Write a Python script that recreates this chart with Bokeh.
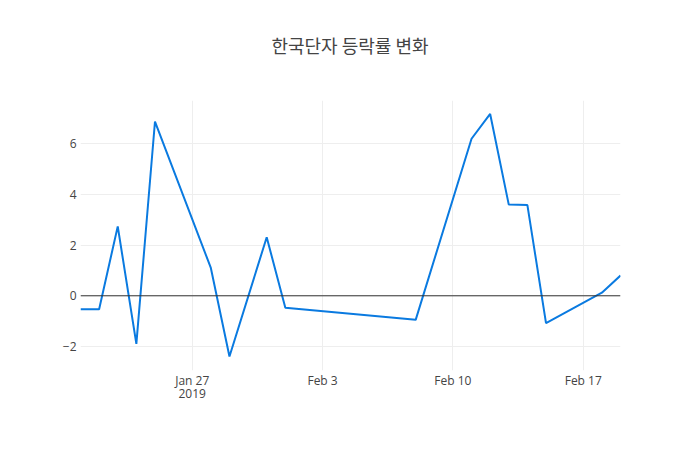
import pandas as pd
from bokeh.plotting import figure
from bokeh.layouts import column
from bokeh.models import FixedTicker, Span, Range1d, Div
from bokeh.embed import file_html
from bokeh.resources import INLINE

title_text = "한국단자 등락률 변화"
dates = ["2019-01-21", "2019-01-22", "2019-01-23", "2019-01-24", "2019-01-25",
         "2019-01-28", "2019-01-29", "2019-01-31", "2019-02-01", "2019-02-08",
         "2019-02-11", "2019-02-12", "2019-02-13", "2019-02-14", "2019-02-15",
         "2019-02-18", "2019-02-19"]
rates = [-0.53, -0.53, 2.74, -1.90, 6.88,
         1.10, -2.40, 2.31, -0.47, -0.95,
         6.20, 7.18, 3.60, 3.58, -1.08,
         0.12, 0.80]
x_tick_dates = ["2019-01-27", "2019-02-03", "2019-02-10", "2019-02-17"]
x_tick_labels = ["Jan 27\n2019", "Feb 3", "Feb 10", "Feb 17"]
y_ticks = [-2, 0, 2, 4, 6]
y_tick_labels = ["\u22122", "0", "2", "4", "6"]

x = pd.to_datetime(dates)

p = figure(width=700, height=350, x_axis_type="datetime", output_backend="svg",
           toolbar_location=None, title=None, min_border_left=80, min_border_right=80,
           min_border_top=0, min_border_bottom=80)
p.x_range = Range1d(x[0], x[-1])
p.y_range = Range1d(-2.95, 7.71)

p.line(x, rates, line_color="#0a7ae0", line_width=2)
p.add_layout(Span(location=0, dimension="width", line_color="#333333", line_width=1))

xt = [pd.Timestamp(d).value // 10**6 for d in x_tick_dates]
p.xaxis.ticker = FixedTicker(ticks=xt)
p.xaxis.major_label_overrides = {t: l for t, l in zip(xt, x_tick_labels)}
p.yaxis.ticker = FixedTicker(ticks=y_ticks)
p.yaxis.major_label_overrides = {t: l for t, l in zip(y_ticks, y_tick_labels)}

for ax in (p.xaxis[0], p.yaxis[0]):
    ax.axis_line_color = None
    ax.major_tick_line_color = None
    ax.minor_tick_line_color = None
    ax.major_label_text_font = "Open Sans"
    ax.major_label_text_font_size = "12px"
    ax.major_label_text_color = "#444444"
p.xaxis.major_label_standoff = -5
p.xaxis.major_label_text_line_height = 0.8
p.yaxis.major_label_standoff = -2

p.xgrid.grid_line_color = "#eeeeee"
p.ygrid.grid_line_color = "#eeeeee"
p.xgrid.ticker = FixedTicker(ticks=xt)
p.ygrid.ticker = FixedTicker(ticks=y_ticks)
p.outline_line_color = None

title = Div(text=title_text, width=700, height=100,
            styles={"text-align": "center", "font-size": "18px",
                    "font-family": "'Noto Sans CJK KR'", "color": "#444444",
                    "line-height": "22px", "padding-top": "34px",
                    "box-sizing": "border-box", "width": "700px", "margin": "0"})

layout = column(title, p, spacing=0)
open("out.html", "w").write(file_html(layout, INLINE))
